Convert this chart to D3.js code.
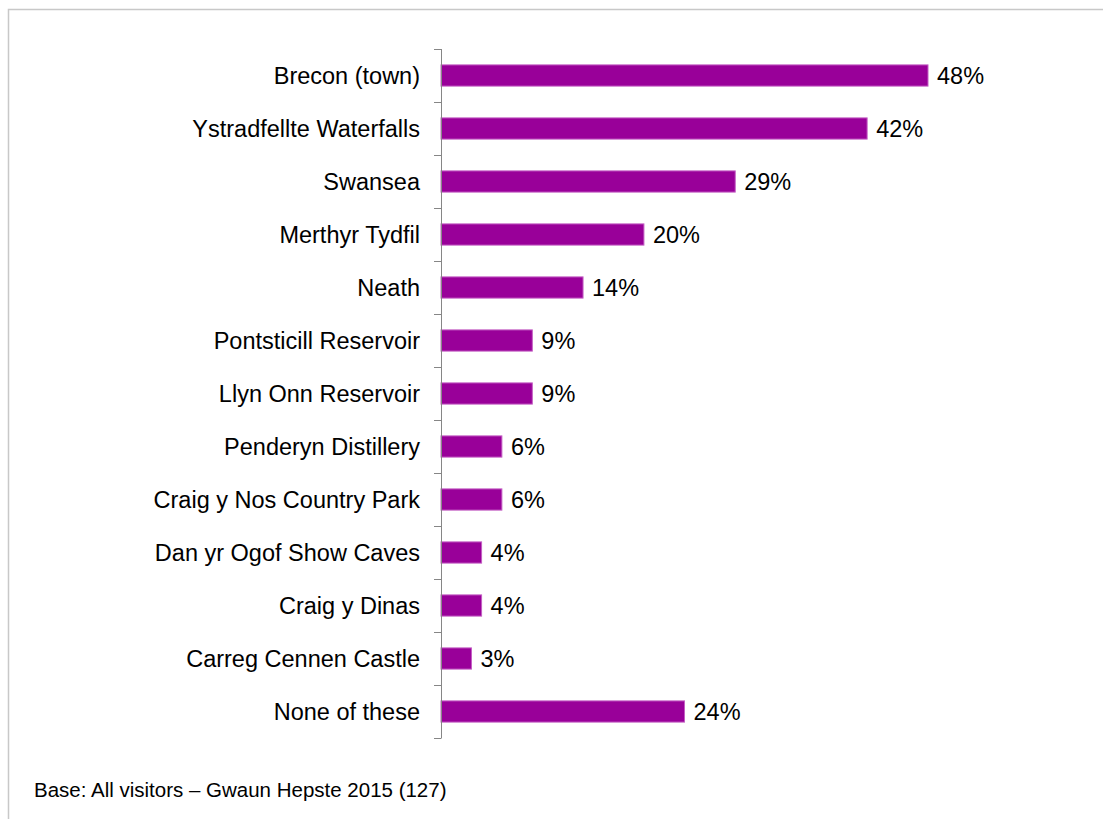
<!DOCTYPE html>
<html>
<head>
<meta charset="utf-8">
<script src="https://cdn.jsdelivr.net/npm/d3@7"></script>
<style>
  html, body { margin: 0; padding: 0; background: #fff; }
  svg { display: block; }
  text { font-family: "Liberation Sans", Arial, sans-serif; fill: #000; }
</style>
</head>
<body>
<svg id="chart" width="1103" height="819"></svg>
<script>
// Places visited during the trip (% of visitors)
const categories = [
  "Brecon (town)", "Ystradfellte Waterfalls", "Swansea", "Merthyr Tydfil", "Neath",
  "Pontsticill Reservoir", "Llyn Onn Reservoir", "Penderyn Distillery",
  "Craig y Nos Country Park", "Dan yr Ogof Show Caves", "Craig y Dinas",
  "Carreg Cennen Castle", "None of these"
];
const values = [48, 42, 29, 20, 14, 9, 9, 6, 6, 4, 4, 3, 24];
const valueLabels = ["48%", "42%", "29%", "20%", "14%", "9%", "9%", "6%", "6%", "4%", "4%", "3%", "24%"];
const footnote = "Base: All visitors \u2013 Gwaun Hepste 2015 (127)";

const svg = d3.select("#chart");

// outer frame
svg.append("rect")
  .attr("x", 8.5).attr("y", 9.5)
  .attr("width", 1110).attr("height", 830)
  .attr("fill", "none").attr("stroke", "#c8c8c8").attr("stroke-width", 1.5);

const plotLeft = 441, plotTop = 49, plotBottom = 738;

const y = d3.scaleBand()
  .domain(categories)
  .range([plotTop, plotBottom])
  .paddingInner(0.6)
  .paddingOuter(0.3);

const x = d3.scaleLinear().domain([0, 48]).range([plotLeft, 928]);

// bars
svg.append("g").selectAll("rect")
  .data(categories)
  .join("rect")
  .attr("x", plotLeft)
  .attr("y", d => y(d))
  .attr("width", (d, i) => x(values[i]) - plotLeft)
  .attr("height", y.bandwidth())
  .attr("fill", "#990099")
  .attr("stroke", "#c45ec4")
  .attr("stroke-width", 1);

// value labels
svg.append("g").selectAll("text")
  .data(categories)
  .join("text")
  .attr("x", (d, i) => x(values[i]) + 9)
  .attr("y", d => y(d) + y.bandwidth() / 2 + 8.5)
  .attr("font-size", 23.5)
  .text((d, i) => valueLabels[i]);

// category axis with ticks between categories
const tickYs = d3.range(categories.length + 1).map(i => plotTop + i * (plotBottom - plotTop) / categories.length);
const axisG = svg.append("g");
axisG.append("line")
  .attr("x1", plotLeft + 0.5).attr("x2", plotLeft + 0.5)
  .attr("y1", plotTop).attr("y2", plotBottom)
  .attr("stroke", "#868686").attr("stroke-width", 1);
axisG.selectAll("line.tick")
  .data(tickYs)
  .join("line")
  .attr("class", "tick")
  .attr("x1", plotLeft - 7).attr("x2", plotLeft + 0.5)
  .attr("y1", d => Math.round(d) + 0.5).attr("y2", d => Math.round(d) + 0.5)
  .attr("stroke", "#868686").attr("stroke-width", 1);

axisG.selectAll("text")
  .data(categories)
  .join("text")
  .attr("x", 420)
  .attr("y", d => y(d) + y.bandwidth() / 2 + 8.5)
  .attr("text-anchor", "end")
  .attr("font-size", 23.5)
  .text(d => d);

// footnote
svg.append("text")
  .attr("x", 34).attr("y", 797)
  .attr("font-size", 20.5)
  .text(footnote);
</script>
</body>
</html>
